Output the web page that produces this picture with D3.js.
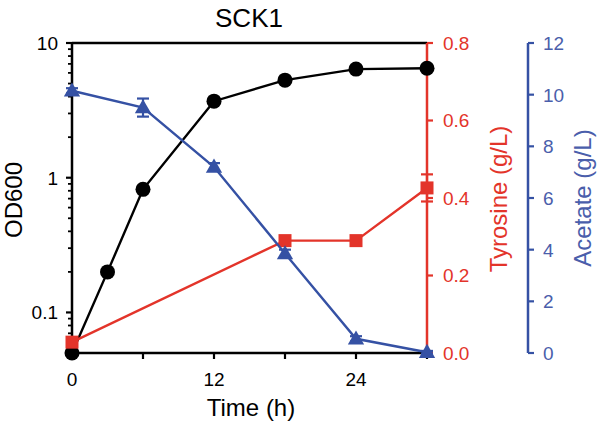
<!DOCTYPE html>
<html><head><meta charset="utf-8">
<script src="https://cdn.jsdelivr.net/npm/d3@7"></script>
<style>body{margin:0;background:#fff}svg{display:block;font-family:"Liberation Sans",Arial,sans-serif}</style>
</head><body><svg id="c" width="598" height="427"></svg>
<script>
const time = [0, 3, 6, 12, 18, 24, 30];
const od600 = [0.05, 0.2, 0.82, 3.7, 5.3, 6.4, 6.5];
const tyrTime = [0, 18, 24, 30];
const tyrosine = [0.028, 0.29, 0.29, 0.426];
const tyrErr = [0.005, 0.01, 0.01, 0.035];
const aceTime = [0, 6, 12, 18, 24, 30];
const acetate = [10.15, 9.5, 7.2, 3.85, 0.55, 0.03];
const aceErr = [0.1, 0.35, 0.15, 0.15, 0.1, 0.05];
const xTicks = [0, 6, 12, 18, 24, 30];
const xTickLabels = [0, 12, 24];
const odTicks = [0.1, 1, 10];
const tyrTicks = [0, 0.2, 0.4, 0.6, 0.8];
const aceTicks = [0, 2, 4, 6, 8, 10, 12];

const BLACK = "#000", RED = "#e3342a", BLUE = "#3551a4", BLUE_T = "#4a5eab";
const L = 72, R = 427, T = 43, B = 353;
const FS_TICK = 19, FS_LAB = 24;
const svg = d3.select("#c");
const x = d3.scaleLinear().domain([0, 30]).range([L, R]);
const yOD = d3.scaleLog().domain([0.05, 10]).range([B, T]);
const yT = d3.scaleLinear().domain([0, 0.8]).range([B, T]);
const yA = d3.scaleLinear().domain([0, 12]).range([B, T]);

// top frame line
svg.append("line").attr("x1", L).attr("x2", R).attr("y1", T).attr("y2", T).attr("stroke", BLACK).attr("stroke-width", 2.5);

// left log axis
const minor = [];
for (let d = 0.01; d <= 1; d *= 10) for (let k = 2; k <= 9; k++) { const v = +(k * d).toPrecision(3); if (v >= 0.05 && v < 10) minor.push(v); }
const gL = svg.append("g");
gL.append("line").attr("x1", L).attr("x2", L).attr("y1", T - 1).attr("y2", B).attr("stroke", BLACK).attr("stroke-width", 2.5);
gL.selectAll(".mi").data(minor).join("line").attr("x1", L - 4).attr("x2", L).attr("y1", d => yOD(d)).attr("y2", d => yOD(d)).attr("stroke", BLACK).attr("stroke-width", 1.8);
gL.selectAll(".ma").data(odTicks).join("line").attr("x1", L - 6).attr("x2", L).attr("y1", d => yOD(d)).attr("y2", d => yOD(d)).attr("stroke", BLACK).attr("stroke-width", 2.2);
gL.selectAll("text").data(odTicks).join("text").attr("x", 58).attr("y", d => yOD(d)).attr("dy", "0.36em").attr("text-anchor", "end").attr("font-size", FS_TICK).text(d => d3.format("~g")(d));

// bottom axis
const gB = svg.append("g");
gB.append("line").attr("x1", L - 1).attr("x2", R).attr("y1", B).attr("y2", B).attr("stroke", BLACK).attr("stroke-width", 2.5);
gB.selectAll("line.t").data(xTicks).join("line").attr("x1", d => x(d)).attr("x2", d => x(d)).attr("y1", B).attr("y2", B + 6).attr("stroke", BLACK).attr("stroke-width", 2.2);
gB.selectAll("text").data(xTickLabels).join("text").attr("x", d => x(d)).attr("y", 386).attr("text-anchor", "middle").attr("font-size", FS_TICK).text(d => d);

// red axis
const gR = svg.append("g");
gR.append("line").attr("x1", R).attr("x2", R).attr("y1", T).attr("y2", B).attr("stroke", RED).attr("stroke-width", 2.5);
gR.selectAll("line.t").data(tyrTicks).join("line").attr("x1", R).attr("x2", R + 6).attr("y1", d => yT(d)).attr("y2", d => yT(d)).attr("stroke", RED).attr("stroke-width", 2.2);
gR.selectAll("text").data(tyrTicks).join("text").attr("x", R + 16).attr("y", d => yT(d)).attr("dy", "0.36em").attr("font-size", FS_TICK).attr("fill", RED).text(d => d3.format(".1f")(d));

// blue axis
const AX = 528;
const gA = svg.append("g");
gA.append("line").attr("x1", AX).attr("x2", AX).attr("y1", T).attr("y2", B).attr("stroke", BLUE).attr("stroke-width", 2.5);
gA.selectAll("line.t").data(aceTicks).join("line").attr("x1", AX).attr("x2", AX + 6).attr("y1", d => yA(d)).attr("y2", d => yA(d)).attr("stroke", BLUE).attr("stroke-width", 2.2);
gA.selectAll("text").data(aceTicks).join("text").attr("x", AX + 15).attr("y", d => yA(d)).attr("dy", "0.36em").attr("font-size", FS_TICK).attr("fill", BLUE_T).text(d => d);

// titles
svg.append("text").attr("x", 249).attr("y", 27).attr("text-anchor", "middle").attr("font-size", 26).text("SCK1");
svg.append("text").attr("x", 251).attr("y", 416).attr("text-anchor", "middle").attr("font-size", FS_LAB).text("Time (h)");
svg.append("text").attr("transform", "translate(22,200) rotate(-90)").attr("text-anchor", "middle").attr("font-size", FS_LAB).text("OD600");
svg.append("text").attr("transform", "translate(507,199) rotate(-90)").attr("text-anchor", "middle").attr("font-size", FS_LAB).attr("fill", RED).text("Tyrosine (g/L)");
svg.append("text").attr("transform", "translate(591,198) rotate(-90)").attr("text-anchor", "middle").attr("font-size", FS_LAB).attr("fill", BLUE_T).text("Acetate (g/L)");

// OD series
const odData = time.map((t, i) => ({t, v: od600[i]}));
svg.append("path").datum(odData).attr("fill", "none").attr("stroke", BLACK).attr("stroke-width", 2.4)
  .attr("d", d3.line().x(d => x(d.t)).y(d => yOD(d.v)));
svg.selectAll(".od").data(odData).join("circle").attr("cx", d => x(d.t)).attr("cy", d => yOD(d.v)).attr("r", 7.5).attr("fill", BLACK);

// Tyrosine series
const tData = tyrTime.map((t, i) => ({t, v: tyrosine[i], e: tyrErr[i]}));
svg.append("path").datum(tData).attr("fill", "none").attr("stroke", RED).attr("stroke-width", 2.4)
  .attr("d", d3.line().x(d => x(d.t)).y(d => yT(d.v)));
const eb = svg.append("g").attr("stroke", RED).attr("stroke-width", 2.2);
tData.forEach(d => {
  eb.append("line").attr("x1", x(d.t)).attr("x2", x(d.t)).attr("y1", yT(d.v - d.e)).attr("y2", yT(d.v + d.e));
  [d.v - d.e, d.v + d.e].forEach(v => eb.append("line").attr("x1", x(d.t) - 6).attr("x2", x(d.t) + 6).attr("y1", yT(v)).attr("y2", yT(v)));
});
svg.selectAll(".ty").data(tData).join("rect").attr("x", d => x(d.t) - 6.5).attr("y", d => yT(d.v) - 6.5).attr("width", 13).attr("height", 13).attr("fill", RED);

// Acetate series
const aData = aceTime.map((t, i) => ({t, v: acetate[i], e: aceErr[i]}));
svg.append("path").datum(aData).attr("fill", "none").attr("stroke", BLUE).attr("stroke-width", 2.4)
  .attr("d", d3.line().x(d => x(d.t)).y(d => yA(d.v)));
const ea = svg.append("g").attr("stroke", BLUE).attr("stroke-width", 2.2);
aData.forEach(d => {
  ea.append("line").attr("x1", x(d.t)).attr("x2", x(d.t)).attr("y1", yA(d.v - d.e)).attr("y2", yA(d.v + d.e));
  [d.v - d.e, d.v + d.e].forEach(v => ea.append("line").attr("x1", x(d.t) - 6).attr("x2", x(d.t) + 6).attr("y1", yA(v)).attr("y2", yA(v)));
});
const tri = d3.symbol().type(d3.symbolTriangle).size(115);
svg.selectAll(".ac").data(aData).join("path").attr("d", tri).attr("transform", d => `translate(${x(d.t)},${yA(d.v) + 1})`).attr("fill", BLUE);
</script></body></html>
